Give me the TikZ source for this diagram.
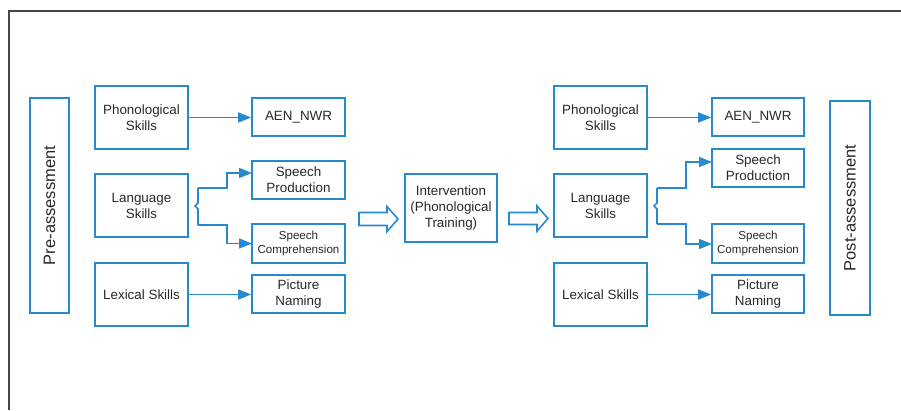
\documentclass[tikz,border=0pt]{standalone}
\usepackage{fontspec}
\setmainfont{Liberation Sans}
\usetikzlibrary{arrows.meta}
\definecolor{lblue}{RGB}{40,138,206}
\definecolor{txt}{RGB}{40,40,40}
\definecolor{frame}{RGB}{70,70,70}
\begin{document}
\begin{tikzpicture}[x=1pt,y=-1pt,
  box/.style={draw=lblue,line width=1.6pt,align=center,inner sep=0pt,text=txt,
    font=\fontsize{13.4}{16}\selectfont},
  smallbox/.style={box,font=\fontsize{11.6}{14}\selectfont},
  bigbox/.style={box,font=\fontsize{16.5}{19}\selectfont},
  conn/.style={draw=lblue,line width=1.6pt},
  arr/.style={conn,-{Triangle[length=13pt,width=10pt]}},
  hollow/.style={draw=lblue,line width=1.6pt,line join=miter}]
\useasboundingbox (0,0) rectangle (901,410);
% frame
\draw[frame,line width=1.4pt] (9,410) -- (9,11) -- (901,11);
% left column
\node[bigbox,minimum width=39pt,minimum height=215pt] (pre) at (49.5,205.5) {\rotatebox{90}{Pre-assessment}};
\node[box,minimum width=93pt,minimum height=63pt] (ph1) at (141.5,117.5) {Phonological\\Skills};
\node[box,minimum width=93pt,minimum height=63pt] (la1) at (141.5,205.5) {Language\\Skills};
\node[box,minimum width=93pt,minimum height=63pt] (le1) at (141.5,294.5) {Lexical Skills};
\node[box,minimum width=93pt,minimum height=38pt] (aen1) at (298.5,117) {AEN\_NWR};
\node[box,minimum width=93pt,minimum height=38pt] (sp1) at (298.5,180) {Speech\\Production};
\node[smallbox,minimum width=93pt,minimum height=39pt] (sc1) at (298.5,243.5) {Speech\\Comprehension};
\node[box,minimum width=93pt,minimum height=38pt] (pn1) at (298.5,294) {Picture\\Naming};
% intervention
\node[box,minimum width=92pt,minimum height=68pt] (int) at (451,208) {Intervention\\(Phonological\\Training)};
% right column
\node[box,minimum width=93pt,minimum height=63pt] (ph2) at (600.5,117.5) {Phonological\\Skills};
\node[box,minimum width=93pt,minimum height=63pt] (la2) at (600.5,205.5) {Language\\Skills};
\node[box,minimum width=93pt,minimum height=63pt] (le2) at (600.5,294.5) {Lexical Skills};
\node[box,minimum width=92pt,minimum height=38pt] (aen2) at (758,117) {AEN\_NWR};
\node[box,minimum width=92pt,minimum height=38pt] (sp2) at (758,168) {Speech\\Production};
\node[smallbox,minimum width=92pt,minimum height=39pt] (sc2) at (758,243.5) {Speech\\Comprehension};
\node[box,minimum width=92pt,minimum height=38pt] (pn2) at (758,294) {Picture\\Naming};
\node[bigbox,minimum width=40pt,minimum height=214pt] (post) at (850,208) {\rotatebox{90}{Post-assessment}};
% straight arrows
\draw[arr] (ph1.east) -- (ph1.east -| aen1.west);
\draw[arr] (le1.east) -- (le1.east -| pn1.west);
\draw[arr] (ph2.east) -- (ph2.east -| aen2.west);
\draw[arr] (le2.east) -- (le2.east -| pn2.west);
% left brace
\coordinate (b1a) at (198,188);
\coordinate (b1b) at (198,225);
\coordinate (sp1in) at (252,173);
\coordinate (sc1in) at (252,243.5);
\draw[conn] (b1a) -- (198,203) -- (195,206) -- (198,209) -- (b1b);
\draw[arr] (b1a) -- (227,188) |- (sp1in);
\draw[arr] (b1b) -- (227,225) |- (sc1in);
% right brace
\coordinate (b2a) at (657,188);
\coordinate (b2b) at (657,224);
\coordinate (sp2in) at (712,162);
\coordinate (sc2in) at (712,244);
\draw[conn] (b2a) -- (657,203) -- (654,206) -- (657,209) -- (b2b);
\draw[arr] (b2a) -- (686,188) |- (sp2in);
\draw[arr] (b2b) -- (686,224) |- (sc2in);
% hollow block arrows
\draw[hollow] (359,212.5) -- (387,212.5) -- (387,206.5) -- (398,219) -- (387,231.5) -- (387,225.5) -- (359,225.5) -- cycle;
\draw[hollow] (509,212.5) -- (537,212.5) -- (537,206) -- (548,218.5) -- (537,231) -- (537,224.5) -- (509,224.5) -- cycle;
\end{tikzpicture}
\end{document}
